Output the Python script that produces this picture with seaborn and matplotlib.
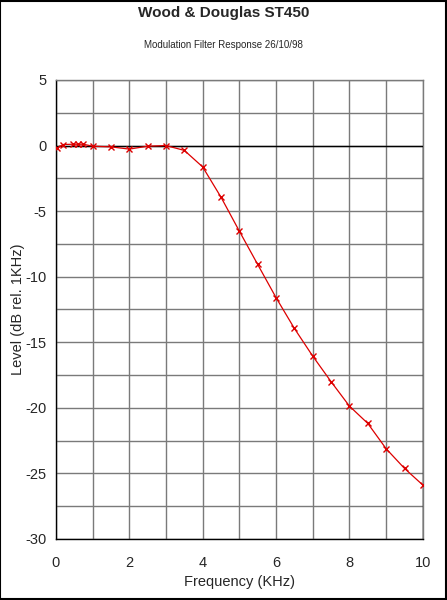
import matplotlib
matplotlib.use("Agg")
import matplotlib.pyplot as plt
import seaborn as sns
import pandas as pd
import numpy as np
from matplotlib.patches import Rectangle

freq_khz = [0.03, 0.2, 0.47, 0.61, 0.75, 1.0, 1.5, 2.0, 2.5, 3.0, 3.5,
            4.0, 4.5, 5.0, 5.5, 6.0, 6.5, 7.0, 7.5, 8.0, 8.5, 9.0, 9.5, 10.0]
level_db = [-0.2, 0.08, 0.1, 0.1, 0.1, -0.05, -0.1, -0.27, -0.05, 0.0, -0.37,
            -1.63, -3.94, -6.53, -9.07, -11.6, -13.95, -16.06, -18.01, -19.87,
            -21.19, -23.12, -24.62, -25.89]
title = "Wood & Douglas ST450"
subtitle = "Modulation Filter Response 26/10/98"
x_label = "Frequency (KHz)"
y_label = "Level (dB rel. 1KHz)"

df = pd.DataFrame({"freq": freq_khz, "level": level_db})

sns.set_style("white")
plt.rcParams["font.family"] = ["Liberation Sans", "DejaVu Sans"]
plt.rcParams["axes.unicode_minus"] = False

fig = plt.figure(figsize=(4.47, 6.0), dpi=100)
ax = fig.add_axes([0.125, 0.1017, 0.821, 0.765])

sns.lineplot(data=df, x="freq", y="level", ax=ax, color="#dd0000",
             marker="x", markersize=5, markeredgewidth=1.0,
             markeredgecolor="#dd0000", linewidth=0.9, zorder=5)

ax.set_xlim(0, 10)
ax.set_ylim(-30, 5)
ax.set_xticks(np.arange(0, 11, 2))
ax.set_xticks(np.arange(0, 11, 1), minor=True)
ax.set_yticks(np.arange(-30, 6, 5))
ax.set_yticks(np.arange(-30, 6, 2.5), minor=True)
ax.grid(True, which="both", color="#7a7a7a", linewidth=1.0)
ax.set_axisbelow(True)

ax.axhline(0, color="black", linewidth=1.0, zorder=3)
ax.axvline(10, ymin=0, ymax=30 / 35, color="black", linewidth=1.0, zorder=3)

for s in ["top", "right"]:
    ax.spines[s].set_color("#7a7a7a")
    ax.spines[s].set_linewidth(1.0)
for s in ["left", "bottom"]:
    ax.spines[s].set_color("black")
    ax.spines[s].set_linewidth(1.0)

ax.tick_params(axis="both", which="both", direction="inout", length=6,
               width=1.0, color="black", labelsize=10.5, pad=4)
ax.tick_params(axis="x", which="both", length=7)
ax.tick_params(axis="x", which="major", pad=9)

ax.set_xlabel(x_label, fontsize=10.5, labelpad=3)
ax.set_ylabel(y_label, fontsize=10.5, labelpad=0)

fig.text(0.5, 0.978, title, ha="center", va="center", fontsize=11,
         fontweight="bold")
fig.text(0.5, 0.925, subtitle, ha="center", va="center", fontsize=7)

fig.patches.append(Rectangle((0.001, 0.001), 0.997, 0.997,
                             transform=fig.transFigure, fill=False,
                             edgecolor="black", linewidth=1.5))

fig.savefig("out.png", dpi=100)
